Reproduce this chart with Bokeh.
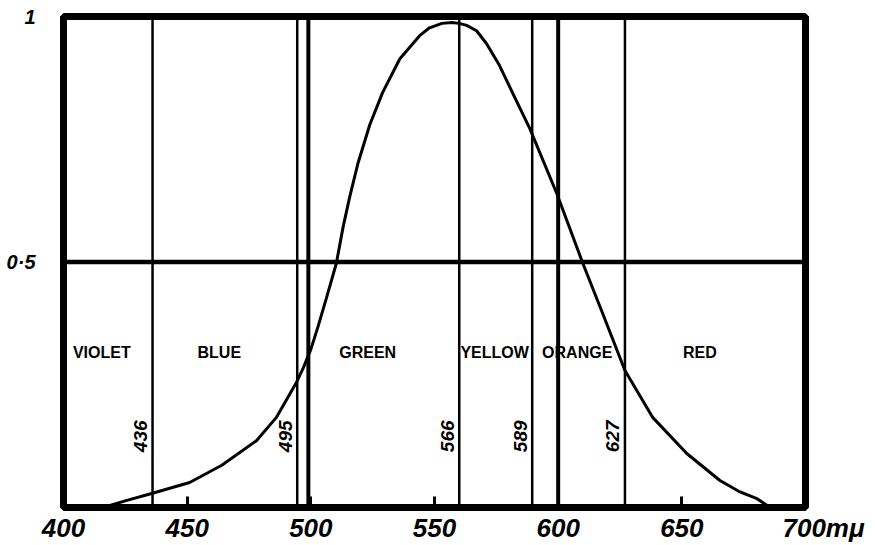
from math import pi
from bokeh.plotting import figure
from bokeh.models import Range1d, FixedTicker
from bokeh.core.properties import value
from bokeh.embed import file_html
from bokeh.resources import INLINE

# Luminosity curve (wavelength in m-mu, relative value)
wavelength = [416, 426, 436, 451, 464, 478, 486, 494, 497, 500, 503, 506.5, 510.3, 513,
              515.6, 519, 523.8, 529, 536, 544, 548, 553, 557, 560, 563, 567, 571, 576.3,
              582, 588.5, 599.4, 610, 618, 627, 638.3, 652, 665.4, 673, 680.4, 685.7]
luminosity = [0.0, 0.015, 0.029, 0.051, 0.086, 0.136, 0.183, 0.253, 0.285, 0.322, 0.37,
              0.43, 0.497, 0.57, 0.63, 0.70, 0.779, 0.845, 0.914, 0.961, 0.977, 0.986,
              0.988, 0.986, 0.982, 0.971, 0.945, 0.9, 0.84, 0.772, 0.64, 0.497, 0.395,
              0.279, 0.183, 0.11, 0.055, 0.033, 0.018, 0.0]

# Boundary lines
boundary_x = [436, 494.5, 499, 560, 589.5, 600, 627]
boundary_heavy = [False, False, True, False, False, True, False]
boundary_label_x = [436, 494.5, 560, 589.5, 627]
boundary_labels = ["436", "495", "566", "589", "627"]

# Colour regions
region_names = ["VIOLET", "BLUE", "GREEN", "YELLOW", "ORANGE", "RED"]
region_x = [415.5, 463, 523, 574.3, 607.7, 657.3]
region_y = [0.316] * 6

half_level = 0.5
x_ticks = [400, 450, 500, 550, 600, 650, 700]
NB = "\u00a0"
x_tick_labels = {700: NB * 5 + "700mμ"}
y_ticks = [0.5, 1]
y_tick_labels = {0.5: "0·5", 1: "1"}

FONT = value("Liberation Sans")

p = figure(width=875, height=545, output_backend="svg", toolbar_location=None,
           x_range=Range1d(400, 700), y_range=Range1d(0, 1),
           min_border_left=63, min_border_right=70, min_border_top=16,
           min_border_bottom=38)
p.background_fill_color = "white"
p.border_fill_color = "white"
p.xgrid.visible = False
p.ygrid.visible = False
p.outline_line_color = "black"
p.outline_line_width = 7

# Axes
xa = p.xaxis[0]
xa.ticker = FixedTicker(ticks=x_ticks)
xa.major_label_overrides = x_tick_labels
xa.axis_line_color = None
xa.major_tick_in = 11
xa.major_tick_out = 0
xa.major_tick_line_width = 3
xa.minor_tick_line_color = None
xa.major_label_standoff = 5
xa.major_label_text_font = "Liberation Sans"
xa.major_label_text_font_style = "bold italic"
xa.major_label_text_font_size = "26px"
xa.major_label_text_color = "black"

ya = p.yaxis[0]
ya.ticker = FixedTicker(ticks=y_ticks)
ya.major_label_overrides = y_tick_labels
ya.axis_line_color = None
ya.major_tick_line_color = None
ya.minor_tick_line_color = None
ya.major_label_standoff = 22
ya.major_label_text_font = "Liberation Sans"
ya.major_label_text_font_style = "bold italic"
ya.major_label_text_font_size = "20px"
ya.major_label_text_color = "black"

# Half-level horizontal line
p.line(x=[400, 700], y=[half_level, half_level], line_color="black", line_width=4.5)

# Boundary lines
for bx, heavy in zip(boundary_x, boundary_heavy):
    p.line(x=[bx, bx], y=[0, 1], line_color="black", line_width=4 if heavy else 2.5)

# Curve
p.line(x=wavelength, y=luminosity, line_color="black", line_width=3,
       line_join="round")

# Boundary wavelength labels (vertical)
p.text(x=boundary_label_x, y=[0.145] * len(boundary_label_x), text=boundary_labels,
       angle=pi / 2, x_offset=-12, text_align="center", text_baseline="middle",
       text_font=FONT, text_font_style="bold italic", text_font_size="19px",
       text_color="black")

# Region names
p.text(x=region_x, y=region_y, text=region_names, text_align="center",
       text_baseline="middle", text_font=FONT, text_font_style="bold",
       text_font_size="16px", text_color="black")

open("out.html", "w").write(file_html(p, INLINE))
